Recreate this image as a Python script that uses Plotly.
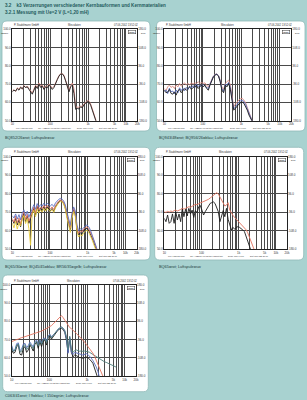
import plotly.graph_objects as go

W, H = 307, 400

# frequency grid (Hz)
freq = [10.0, 11.07, 12.25, 13.55, 15.00, 16.60, 18.37, 20.33, 22.50, 24.90,
        27.55, 30.49, 33.74, 37.35, 41.33, 45.74, 50.62, 56.03, 62.01, 68.63,
        75.93, 84.04, 93.02, 102.9, 113.9, 126.0, 139.5, 154.3, 170.8, 189.0,
        209.2, 231.5, 256.2, 283.6, 313.8, 347.3, 384.4, 425.0, 470.4, 520.7,
        576.2, 637.8, 705.7, 781.1, 864.5, 956.4, 1058, 1171, 1296, 1434,
        1587, 1756, 1944, 2151, 2381, 2635, 2916, 3227, 3571, 3952,
        4374, 4841, 5357, 5928]

# ---- panel 1: BQ852/26 (red), air coil (black)
p1_black = [65.8, 66.7, 66.2, 67.6, 66.7, 68.2, 67.5, 68.9, 68.2, 68.5,
            67.1, 65.8, 64.5, 66.7, 68.9, 67.6, 70.0, 68.2, 68.9, 67.1,
            68.5, 68.0, 69.5, 68.5, 67.1, 68.2, 70.7, 72.5, 74.4, 75.5,
            75.6, 74.4, 71.8, 68.5, 65.8, 68.5, 69.5, 64.9, 56.2, 56.7,
            56.4, 57.6, 57.1, 58.7, 59.8, 60.5, 60.2, 58.5, 55.8, 52.5,
            50.0, 47.6]
p1_red = [66.2, 67.0, 66.0, 68.0, 67.2, 68.6, 67.2, 69.3, 68.0, 69.0,
          67.6, 66.3, 65.2, 67.3, 69.4, 68.2, 70.6, 68.8, 69.5, 67.8,
          69.0, 68.7, 70.0, 69.0, 67.8, 68.8, 71.0, 72.8, 74.6, 75.7,
          75.8, 74.8, 72.4, 69.2, 66.5, 69.3, 70.6, 67.5, 57.5, 57.4,
          57.3, 58.0, 57.8, 59.2, 60.3, 61.0, 60.8, 59.2, 56.5, 53.0,
          50.3, 48.0]

# ---- panel 2: BQ943/48 (red), BQ956/26 (blue), air coil (black)
p2_black = [66.7, 65.3, 65.6, 67.1, 64.9, 64.5, 65.8, 64.0, 66.4, 67.1,
            65.3, 66.4, 67.6, 66.7, 67.5, 68.5, 67.1, 68.2, 68.5, 69.3,
            67.6, 68.9, 69.5, 68.5, 69.5, 67.6, 66.7, 69.5, 72.2, 74.0,
            74.9, 75.3, 74.4, 71.3, 66.7, 65.3, 69.5, 68.5, 70.4, 67.1,
            61.3, 55.8, 56.7, 58.0, 59.1, 59.8, 60.2, 59.5, 58.0, 55.8,
            53.1, 51.3, 49.5]
p2_red = [67.6, 66.4, 68.5, 69.5, 68.2, 68.9, 67.6, 69.5, 68.5, 70.4,
          68.9, 70.0, 70.7, 69.5, 70.4, 69.5, 70.7, 70.0, 70.7, 70.4,
          71.3, 70.4, 70.9, 70.4, 70.7, 69.5, 68.5, 70.4, 72.5, 74.4,
          75.3, 75.6, 74.7, 72.2, 68.5, 67.1, 70.4, 71.3, 72.2, 69.5,
          63.1, 57.6, 59.1, 60.4, 61.3, 62.0, 62.2, 61.3, 59.8, 57.3,
          54.4, 51.8, 49.6]
p2_blue = [66.0, 66.8, 64.8, 67.8, 65.9, 66.2, 64.6, 66.8, 65.2, 68.0,
           66.5, 67.8, 66.4, 68.2, 67.0, 69.0, 68.0, 69.2, 67.9, 70.0,
           68.6, 69.6, 68.9, 69.8, 68.8, 68.4, 67.6, 70.0, 72.6, 74.3,
           75.2, 75.5, 74.6, 71.8, 67.4, 66.0, 70.0, 69.4, 71.0, 68.2,
           62.0, 56.4, 57.6, 59.0, 60.1, 60.8, 61.2, 60.5, 59.0, 56.6,
           53.8, 51.5, 49.5]

# ---- panel 3: BQ65/30 (red), BQ45/45 (blue), BR56/35 (yellow), air coil (black)
p3_black = [65.7, 63.9, 66.6, 63.0, 65.7, 62.1, 67.1, 69.3, 64.8, 67.9,
            63.9, 66.6, 70.2, 72.0, 68.4, 72.9, 70.2, 72.0, 70.8, 72.9,
            71.1, 72.9, 71.5, 70.8, 72.0, 70.2, 72.9, 74.4, 75.5, 76.2,
            75.8, 74.7, 72.0, 67.5, 63.0, 60.3, 67.5, 71.1, 68.4, 60.7,
            57.6, 58.8, 58.1, 59.9, 60.7, 61.2, 60.3, 58.5, 56.3, 54.0,
            51.3, 49.1]
p3_red = [66.5, 64.5, 67.8, 64.2, 66.8, 63.5, 68.0, 70.0, 66.0, 68.8,
          65.0, 67.5, 71.0, 72.8, 69.6, 73.5, 71.2, 72.8, 71.8, 73.6,
          72.0, 73.6, 72.5, 71.8, 72.8, 71.3, 73.5, 75.0, 76.0, 76.6,
          76.3, 75.2, 72.8, 68.5, 64.0, 61.5, 68.5, 72.0, 69.5, 61.8,
          58.5, 59.8, 59.2, 60.8, 61.5, 62.0, 61.2, 59.5, 57.2, 55.0,
          52.2, 49.8]
p3_blue = [68.0, 66.8, 69.0, 66.2, 68.6, 65.8, 69.5, 71.2, 68.0, 70.5,
           67.2, 69.8, 72.5, 74.0, 71.5, 74.6, 72.8, 74.0, 73.2, 74.8,
           73.5, 74.8, 74.0, 73.4, 74.2, 73.0, 74.9, 76.0, 76.9, 77.4,
           77.0, 76.0, 73.8, 69.8, 65.5, 62.8, 69.5, 72.8, 70.5, 63.0,
           59.8, 61.0, 60.5, 61.8, 62.5, 63.0, 62.2, 60.5, 58.2, 55.8,
           53.0, 50.2]
p3_yellow = [64.0, 61.5, 65.0, 60.8, 64.2, 62.5, 66.0, 68.2, 63.8, 66.5,
             61.0, 52.0, 68.8, 71.0, 67.5, 71.8, 69.5, 71.2, 70.0, 72.0,
             70.5, 72.2, 71.0, 70.3, 71.4, 69.8, 72.2, 73.8, 75.0, 75.8,
             75.5, 74.3, 71.5, 66.5, 61.8, 59.0, 66.5, 70.3, 67.5, 59.5,
             56.5, 57.8, 57.0, 58.8, 59.6, 60.2, 59.2, 57.5, 55.2, 52.8,
             50.2, 48.0]

# ---- panel 4: BQ65 (red), air coil (black)
p4_black = [66.6, 64.8, 68.4, 63.9, 64.8, 69.0, 63.9, 70.2, 65.7, 69.0,
            64.8, 72.0, 67.5, 71.5, 67.9, 72.0, 69.0, 71.1, 67.1, 70.8,
            69.7, 72.9, 73.6, 71.1, 68.4, 70.2, 72.0, 73.8, 74.7, 75.1,
            75.5, 74.7, 72.9, 70.2, 64.8, 67.9, 70.8, 67.5, 72.0, 66.1,
            63.0, 60.3, 61.7, 60.7, 61.7, 62.1, 61.7, 61.2, 60.3, 59.4,
            56.7, 54.0, 51.3, 49.1]
p4_red = [70.2, 69.8, 70.4, 70.0, 70.6, 70.2, 70.8, 71.1, 70.6, 70.8,
          71.4, 72.0, 71.6, 72.0, 72.5, 72.9, 72.6, 73.3, 73.8, 74.2,
          74.0, 74.7, 75.0, 75.3, 75.6, 76.0, 76.5, 76.9, 77.6, 78.3,
          79.0, 79.8, 80.5, 79.8, 78.0, 76.2, 74.7, 73.3, 73.8, 75.1,
          71.1, 69.3, 68.2, 67.1, 66.2, 65.3, 64.4, 63.5, 62.6, 61.7,
          60.4, 58.8, 56.5, 54.0, 51.8, 49.5]

# ---- panel 5: C063/41 (red), I 9 (blue), I 150 (green), air coil (black)
p5_black = [64.3, 62.5, 63.0, 66.1, 67.0, 61.9, 61.5, 65.2, 66.1, 63.0,
            64.3, 67.0, 65.6, 63.7, 67.4, 68.5, 65.2, 68.9, 66.1, 69.2,
            69.8, 67.0, 71.1, 72.2, 70.3, 71.6, 73.4, 74.4, 75.3, 75.8,
            76.2, 75.6, 74.0, 69.8, 63.0, 70.7, 63.0, 60.6, 61.5, 61.2,
            60.6, 60.1, 60.1, 59.7, 60.1, 60.4, 60.1, 59.3, 58.2, 57.0,
            54.2, 51.5, 48.7]
p5_red = [68.9, 69.4, 69.8, 70.0, 70.3, 70.8, 71.1, 71.3, 71.6, 72.0,
          72.2, 72.3, 72.5, 73.0, 73.4, 73.7, 74.0, 74.3, 74.7, 75.1,
          75.6, 76.1, 76.6, 77.1, 77.7, 78.6, 79.5, 80.4, 81.3, 82.6,
          83.2, 82.1, 80.8, 78.9, 77.7, 76.6, 76.0, 75.3, 74.3, 73.4,
          72.5, 71.6, 70.7, 69.8, 68.6, 67.4, 66.3, 65.2, 63.9, 62.5,
          60.8, 58.8, 56.5, 54.2, 52.1, 50.0, 47.8]
p5_blue = [66.8, 63.8, 64.5, 67.8, 68.2, 64.0, 64.8, 67.5, 68.0, 65.6,
           66.8, 68.6, 67.3, 66.0, 68.8, 69.8, 67.5, 70.0, 68.2, 70.5,
           70.8, 69.2, 72.0, 73.0, 71.5, 72.5, 74.0, 75.0, 75.8, 76.5,
           76.8, 76.2, 74.8, 70.6, 62.5, 71.5, 63.2, 61.8, 63.0, 62.8,
           62.2, 62.0, 61.8, 61.5, 62.0, 62.3, 61.8, 61.0, 59.8, 58.5,
           56.8, 55.0, 52.5, 49.2]
p5_green = [65.7, 63.5, 64.2, 67.0, 67.6, 63.2, 63.6, 66.6, 67.2, 64.5,
            65.8, 67.8, 66.6, 65.0, 68.2, 69.2, 66.6, 69.5, 67.4, 70.0,
            70.4, 68.4, 71.6, 72.6, 71.0, 72.2, 73.8, 74.9, 75.8, 76.4,
            76.9, 76.3, 75.0, 71.8, 64.5, 71.8, 64.5, 63.0, 64.0, 64.3,
            63.8, 63.6, 63.8, 63.5, 63.7, 63.7, 63.3, 63.0, 62.4, 61.9,
            61.2, 60.6, 60.0, 59.3, 58.8, 58.2, 57.8, 57.5, 57.1, 56.8,
            56.4, 56.0, 55.5, 54.9]

# axis labels
x_tick_vals = [10, 20, 30, 40, 50, 60, 70, 80, 90,
               100, 200, 300, 400, 500, 600, 700, 800, 900,
               1000, 2000, 3000, 4000, 5000, 6000, 7000, 8000, 9000,
               10000, 20000]
x_tick_labels = {10: "10", 100: "100", 1000: "1k", 5000: "5k", 10000: "10k", 20000: "20k"}
y_left_vals = [50, 60, 70, 80, 90, 100]
y_left_text = ["50.0", "60.0", "70.0", "80.0", "90.0", "100.0"]
y_right_vals = [-180, -108, -36, 36, 108, 180]
y_right_text = ["-180.0", "-108.0", "-36.0", "36.0", "108.0", "180.0"]

title1 = "3.2    k3 Verzerrungen verschiedener Kernbauformen und Kernmaterialien"
title2 = "3.2.1 Messung mit Ue=2 V (L=1,20 mH)"

BLACK = "#1c1c1c"
RED = "#e27460"
PINK = "#d98a82"
BLUE = "#5b6fc2"
YELLOW = "#e6c93a"
GREEN = "#4f7f7d"
TXT = "#333333"

panels = [
    dict(box=(2, 21, 150, 131), plot=(12.3, 29.3, 137.3, 120.7), cap=(3, 137.5),
         caption="BQ852/26=rot; Luftspule=sw",
         curves=[(p1_red, PINK), (p1_black, BLACK)]),
    dict(box=(156.5, 21, 305, 131), plot=(164.3, 29.3, 291.3, 120.7), cap=(157, 137.5),
         caption="BQ943/48=rot; BQ956/26=blau; Luftspule=sw",
         curves=[(p2_red, PINK), (p2_blue, BLUE), (p2_black, BLACK)]),
    dict(box=(2, 147.3, 150, 260), plot=(12.3, 156.7, 136.7, 249), cap=(3, 266),
         caption="BQ65/30=rot; BQ45/45=blau; BR56/35=gelb; Luftspule=sw",
         curves=[(p3_black, BLACK), (p3_red, RED), (p3_blue, BLUE), (p3_yellow, YELLOW)]),
    dict(box=(154.7, 147.3, 303.7, 260), plot=(164.3, 156.7, 287, 249), cap=(157, 266),
         caption="BQ65=rot; Luftspule=sw",
         curves=[(p4_black, BLACK), (p4_red, RED)]),
    dict(box=(2.7, 275, 148.3, 391.7), plot=(11.7, 285, 136, 376), cap=(3, 395.5),
         caption="C063/41=rot; I 9=blau; I 150=grün; Luftspule=sw",
         curves=[(p5_black, BLACK), (p5_blue, BLUE), (p5_green, GREEN), (p5_red, RED)]),
]

FONT = "Liberation Sans"


def px(x):
    return x / W


def py(y):
    return 1 - y / H


def rounded(x0, y0, x1, y1, r):
    return (f"M {px(x0 + r)},{py(y0)} L {px(x1 - r)},{py(y0)} "
            f"Q {px(x1)},{py(y0)} {px(x1)},{py(y0 + r)} L {px(x1)},{py(y1 - r)} "
            f"Q {px(x1)},{py(y1)} {px(x1 - r)},{py(y1)} L {px(x0 + r)},{py(y1)} "
            f"Q {px(x0)},{py(y1)} {px(x0)},{py(y1 - r)} L {px(x0)},{py(y0 + r)} "
            f"Q {px(x0)},{py(y0)} {px(x0 + r)},{py(y0)} Z")


def note(x, y, text, size=3, color=TXT, anchor="left", bold=False, **kw):
    return dict(x=px(x), y=py(y), xref="paper", yref="paper", text=f"<b>{text}</b>" if bold else text,
                showarrow=False, xanchor=anchor, yanchor="middle",
                font=dict(family=FONT, size=size, color=color), **kw)


fig = go.Figure()
shapes = []
annotations = [
    note(3, 5.5, title1, size=4.6, color="#1f5a5c", bold=True),
    note(3, 12.5, title2, size=4.6, color="#1f5a5c", bold=True),
]
layout = {}

for i, p in enumerate(panels, start=1):
    bx0, by0, bx1, by1 = p["box"]
    x0, y0, x1, y1 = p["plot"]
    shapes.append(dict(type="path", path=rounded(bx0, by0, bx1, by1, 5), xref="paper", yref="paper",
                       fillcolor="white", line=dict(color="#8fb9b8", width=0.8), layer="below"))
    sx = "" if i == 1 else str(i)
    layout[f"xaxis{sx}"] = dict(
        type="log", domain=[px(x0), px(x1)], range=[1, 4.30103], anchor=f"y{sx}",
        tickvals=x_tick_vals, ticktext=[x_tick_labels.get(v, "") for v in x_tick_vals],
        showgrid=True, gridcolor="#4a4a4a", gridwidth=0.7, showline=True, mirror=True,
        linecolor="#222", linewidth=0.8, ticks="", zeroline=False, color=TXT,
        tickfont=dict(family=FONT, size=3, color=TXT), automargin=False, fixedrange=True)
    layout[f"yaxis{sx}"] = dict(
        domain=[py(y1), py(y0)], range=[50, 100], anchor=f"x{sx}",
        tickvals=y_left_vals, ticktext=y_left_text, showgrid=True, gridcolor="#4a4a4a",
        gridwidth=0.7, showline=True, mirror=True, linecolor="#222", linewidth=0.8,
        ticks="", zeroline=False, color=TXT, tickfont=dict(family=FONT, size=3, color=TXT),
        automargin=False, fixedrange=True)
    layout[f"yaxis{i + 5}"] = dict(
        overlaying=f"y{sx}", side="right", anchor=f"x{sx}", range=[-180, 180],
        tickvals=y_right_vals, ticktext=y_right_text, showgrid=False, showline=False,
        ticks="", zeroline=False, color=TXT, tickfont=dict(family=FONT, size=3, color=TXT),
        automargin=False, fixedrange=True)

    for db, col in p["curves"]:
        fig.add_trace(go.Scatter(x=freq[:len(db)], y=db, xaxis=f"x{sx}", yaxis=f"y{sx}",
                                 mode="lines", line=dict(color=col, width=0.9),
                                 showlegend=False, hoverinfo="skip"))
    fig.add_trace(go.Scatter(x=[freq[0]], y=[0], xaxis=f"x{sx}", yaxis=f"y{i + 5}",
                             mode="lines", line=dict(color="rgba(0,0,0,0)"),
                             showlegend=False, hoverinfo="skip"))

    # header and footer texts of the measurement sheet
    annotations += [
        note(x0, y0 - 4.5, "P. Stadelmann GmbH", size=2.6),
        note((x0 + x1) / 2, y0 - 4.5, "Messdaten", size=2.6, anchor="center"),
        note(x1 + 3, y0 - 4.5, "07.06.2002 13:52:02", size=2.6, anchor="right"),
        note(x0 - 1.5, y0 + 4, "dBSPL", size=2.4, anchor="right"),
        note(x1 + 1.5, y0 + 4, "Deg", size=2.4, anchor="left"),
        note(x1 - 1.5, y0 + 3, "dBBD", size=2.2, anchor="right", bgcolor="white",
             bordercolor="#333", borderwidth=0.5, borderpad=0.3),
    ]
    wdt = x1 - x0
    foot = [(0.01, "File: LS5KT5.mas"), (0.19, "Ch: A dBSPL 1/3 Octave Magnitude"),
            (0.5, "Delay (ms) 0.000"), (0.68, "Dist Phs (dB) 20.00")]
    for f, t in foot:
        annotations.append(note(x0 + f * wdt, y1 + 7, t, size=2.1))
    annotations.append(note(p["cap"][0], p["cap"][1], p["caption"], size=3.9, color="#1d3a3c"))

fig.update_layout(
    width=W, height=H, autosize=False, margin=dict(l=0, r=0, t=0, b=0),
    paper_bgcolor="#a8d2d0", plot_bgcolor="white", showlegend=False,
    shapes=shapes, annotations=annotations, font=dict(family=FONT), **layout)

fig.write_html("out.html")
